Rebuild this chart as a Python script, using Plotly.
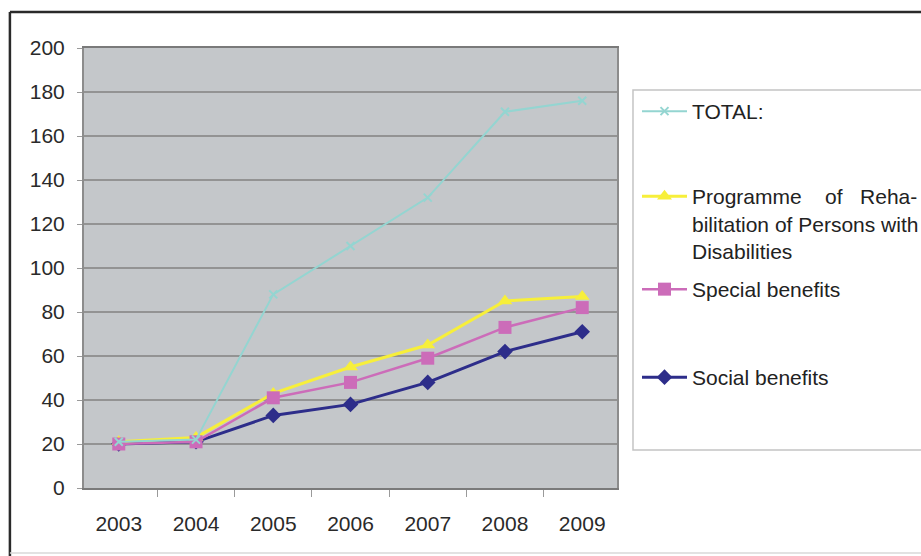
import plotly.graph_objects as go

# Years on the category axis
years = ["2003", "2004", "2005", "2006", "2007", "2008", "2009"]

# Series values
total = [21, 22, 88, 110, 132, 171, 176]
rehabilitation = [21, 23, 43, 55, 65, 85, 87]
special_benefits = [20, 21, 41, 48, 59, 73, 82]
social_benefits = [20, 21, 33, 38, 48, 62, 71]

y_ticks = [0, 20, 40, 60, 80, 100, 120, 140, 160, 180, 200]

NB = "\u00a0"
name_total = "TOTAL:"
name_rehab = ("Programme" + NB * 3 + " of" + NB * 2 + " Reha-<br>"
              "bilitation of Persons with<br>Disabilities")
name_special = "Special benefits"
name_social = "Social benefits"

fig = go.Figure()
# Drawn bottom-up so the total series sits on top
fig.add_trace(go.Scatter(
    x=years, y=social_benefits, name=name_social, mode="lines+markers",
    legend="legend4",
    line=dict(color="#2d2d8a", width=3),
    marker=dict(symbol="diamond", size=12, color="#2d2d8a"),
))
fig.add_trace(go.Scatter(
    x=years, y=rehabilitation, name=name_rehab, mode="lines+markers",
    legend="legend2",
    line=dict(color="#f7ef3a", width=3),
    marker=dict(symbol="triangle-up", size=13, color="#f7ef3a"),
))
fig.add_trace(go.Scatter(
    x=years, y=special_benefits, name=name_special, mode="lines+markers",
    legend="legend3",
    line=dict(color="#cc6cb9", width=2.5),
    marker=dict(symbol="square", size=13, color="#cc6cb9"),
))
fig.add_trace(go.Scatter(
    x=years, y=total, name=name_total, mode="lines+markers",
    legend="legend",
    line=dict(color="#94d5d1", width=2),
    marker=dict(symbol="x-thin", size=8, line=dict(color="#94d5d1", width=2)),
))

# Frame around the whole chart
fig.add_shape(type="line", xref="paper", yref="paper",
              x0=-0.139, x1=1.6, y0=1.082, y1=1.082,
              line=dict(color="#2a2a2a", width=2.5))
fig.add_shape(type="line", xref="paper", yref="paper",
              x0=-0.139, x1=-0.139, y0=1.082, y1=-0.2,
              line=dict(color="#2a2a2a", width=2.5))
fig.add_shape(type="line", xref="paper", yref="paper",
              x0=-0.139, x1=1.6, y0=-0.148, y1=-0.148,
              line=dict(color="#d8d8d8", width=1.5))
# Legend panel
fig.add_shape(type="rect", xref="paper", yref="paper",
              x0=1.030, x1=1.7, y0=0.0864, y1=0.9045,
              fillcolor="white", line=dict(color="#c4c4c4", width=1.5))


def legend_at(top_px):
    return dict(
        x=(637 - 84) / 533, y=(488 - top_px) / 440, xanchor="left", yanchor="top",
        bgcolor="rgba(0,0,0,0)", borderwidth=0,
        valign="top", itemwidth=45,
        font=dict(size=21, color="#222222"),
    )


fig.update_layout(
    width=921, height=556,
    margin=dict(l=84, r=304, t=48, b=68, autoexpand=False),
    paper_bgcolor="white",
    plot_bgcolor="#c4c7ca",
    font=dict(family="Arial, Liberation Sans, sans-serif", size=21, color="#2a2a2a"),
    showlegend=True,
    legend=legend_at(91),
    legend2=legend_at(176),
    legend3=legend_at(269),
    legend4=legend_at(357),
    xaxis=dict(
        type="category", categoryorder="array", categoryarray=years,
        showgrid=False, showline=True, linecolor="#7a7a7a", linewidth=2,
        mirror=True,
        ticks="outside", tickson="boundaries", ticklen=7, tickcolor="#9a9a9a",
        tickwidth=1, ticklabelstandoff=16,
        tickfont=dict(size=21, color="#2a2a2a"),
    ),
    yaxis=dict(
        range=[0, 200], tickvals=y_ticks,
        showgrid=True, gridcolor="#939393", gridwidth=2,
        showline=True, linecolor="#8c8c8c", linewidth=2, mirror=True,
        ticks="outside", ticklen=5, tickcolor="#9a9a9a", tickwidth=1,
        ticklabelstandoff=8,
        tickfont=dict(size=21, color="#2a2a2a"),
        zeroline=False,
    ),
)

fig.write_html("out.html")
